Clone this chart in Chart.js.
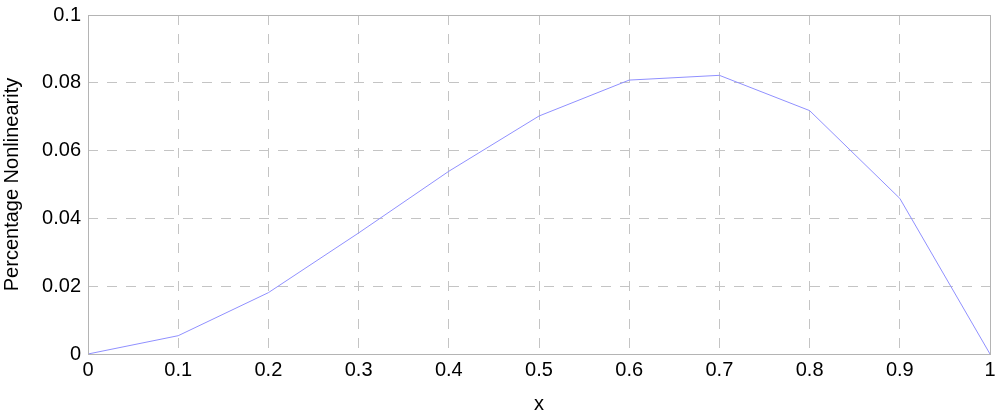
<!DOCTYPE html>
<html><head><meta charset="utf-8">
<script src="https://cdn.jsdelivr.net/npm/chart.js@4"></script>
<style>html,body{margin:0;padding:0;background:#fff}#wrap{width:1000px;height:416px}</style>
</head><body><div id="wrap"><canvas id="c"></canvas></div>
<script>
const xValues = [0, 0.1, 0.2, 0.3, 0.4, 0.5, 0.6, 0.7, 0.8, 0.9, 1];
const yValues = [0, 0.0054, 0.0181, 0.0357, 0.0539, 0.0702, 0.0808, 0.0822, 0.0718, 0.0459, 0];
const xTitle = 'x';
const yTitle = 'Percentage Nonlinearity';

const boxPlugin = {
  id: 'box',
  afterDatasetsDraw(chart) {
    const a = chart.chartArea, ctx = chart.ctx;
    ctx.save();
    ctx.strokeStyle = '#b4b4b4';
    ctx.lineWidth = 1;
    ctx.setLineDash([]);
    ctx.strokeRect(Math.round(a.left) + 0.5, Math.round(a.top) + 0.5, Math.round(a.right - a.left), Math.round(a.bottom - a.top));
    ctx.restore();
  }
};

const fontFam = '"Liberation Sans", Arial, sans-serif';
new Chart(document.getElementById('c'), {
  type: 'line',
  data: {
    datasets: [{
      data: xValues.map((x, i) => ({x, y: yValues[i]})),
      borderColor: '#9090ff',
      borderWidth: 1,
      pointRadius: 0,
      tension: 0,
      fill: false
    }]
  },
  options: {
    responsive: true,
    maintainAspectRatio: false,
    animation: false,
    layout: {padding: {top: 15, right: 10, left: 0, bottom: 0}},
    plugins: {legend: {display: false}, tooltip: {enabled: false}},
    scales: {
      x: {
        type: 'linear', min: 0, max: 1,
        afterFit(s) { s.height = 62; },
        ticks: {stepSize: 0.1, color: '#000', font: {family: fontFam, size: 20}, padding: 4, maxRotation: 0,
          callback: v => String(Number(v.toFixed(2)))},
        grid: {color: '#c4c4c4', tickLength: 0, drawTicks: false},
        border: {display: false, dash: [10, 9]},
        title: {display: true, text: xTitle, color: '#000', font: {family: fontFam, size: 20}, padding: {top: 6, bottom: 0}}
      },
      y: {
        min: 0, max: 0.1,
        afterFit(s) { s.width = 88; s.paddingTop = 0; },
        ticks: {stepSize: 0.02, color: '#000', font: {family: fontFam, size: 20}, padding: 7,
          callback: v => String(Number(v.toFixed(3)))},
        grid: {color: '#c4c4c4', drawTicks: false},
        border: {display: false, dash: [10, 9]},
        title: {display: true, text: yTitle, color: '#000', font: {family: fontFam, size: 20}, padding: {top: 0, bottom: 2}}
      }
    }
  },
  plugins: [boxPlugin]
});
</script></body></html>
